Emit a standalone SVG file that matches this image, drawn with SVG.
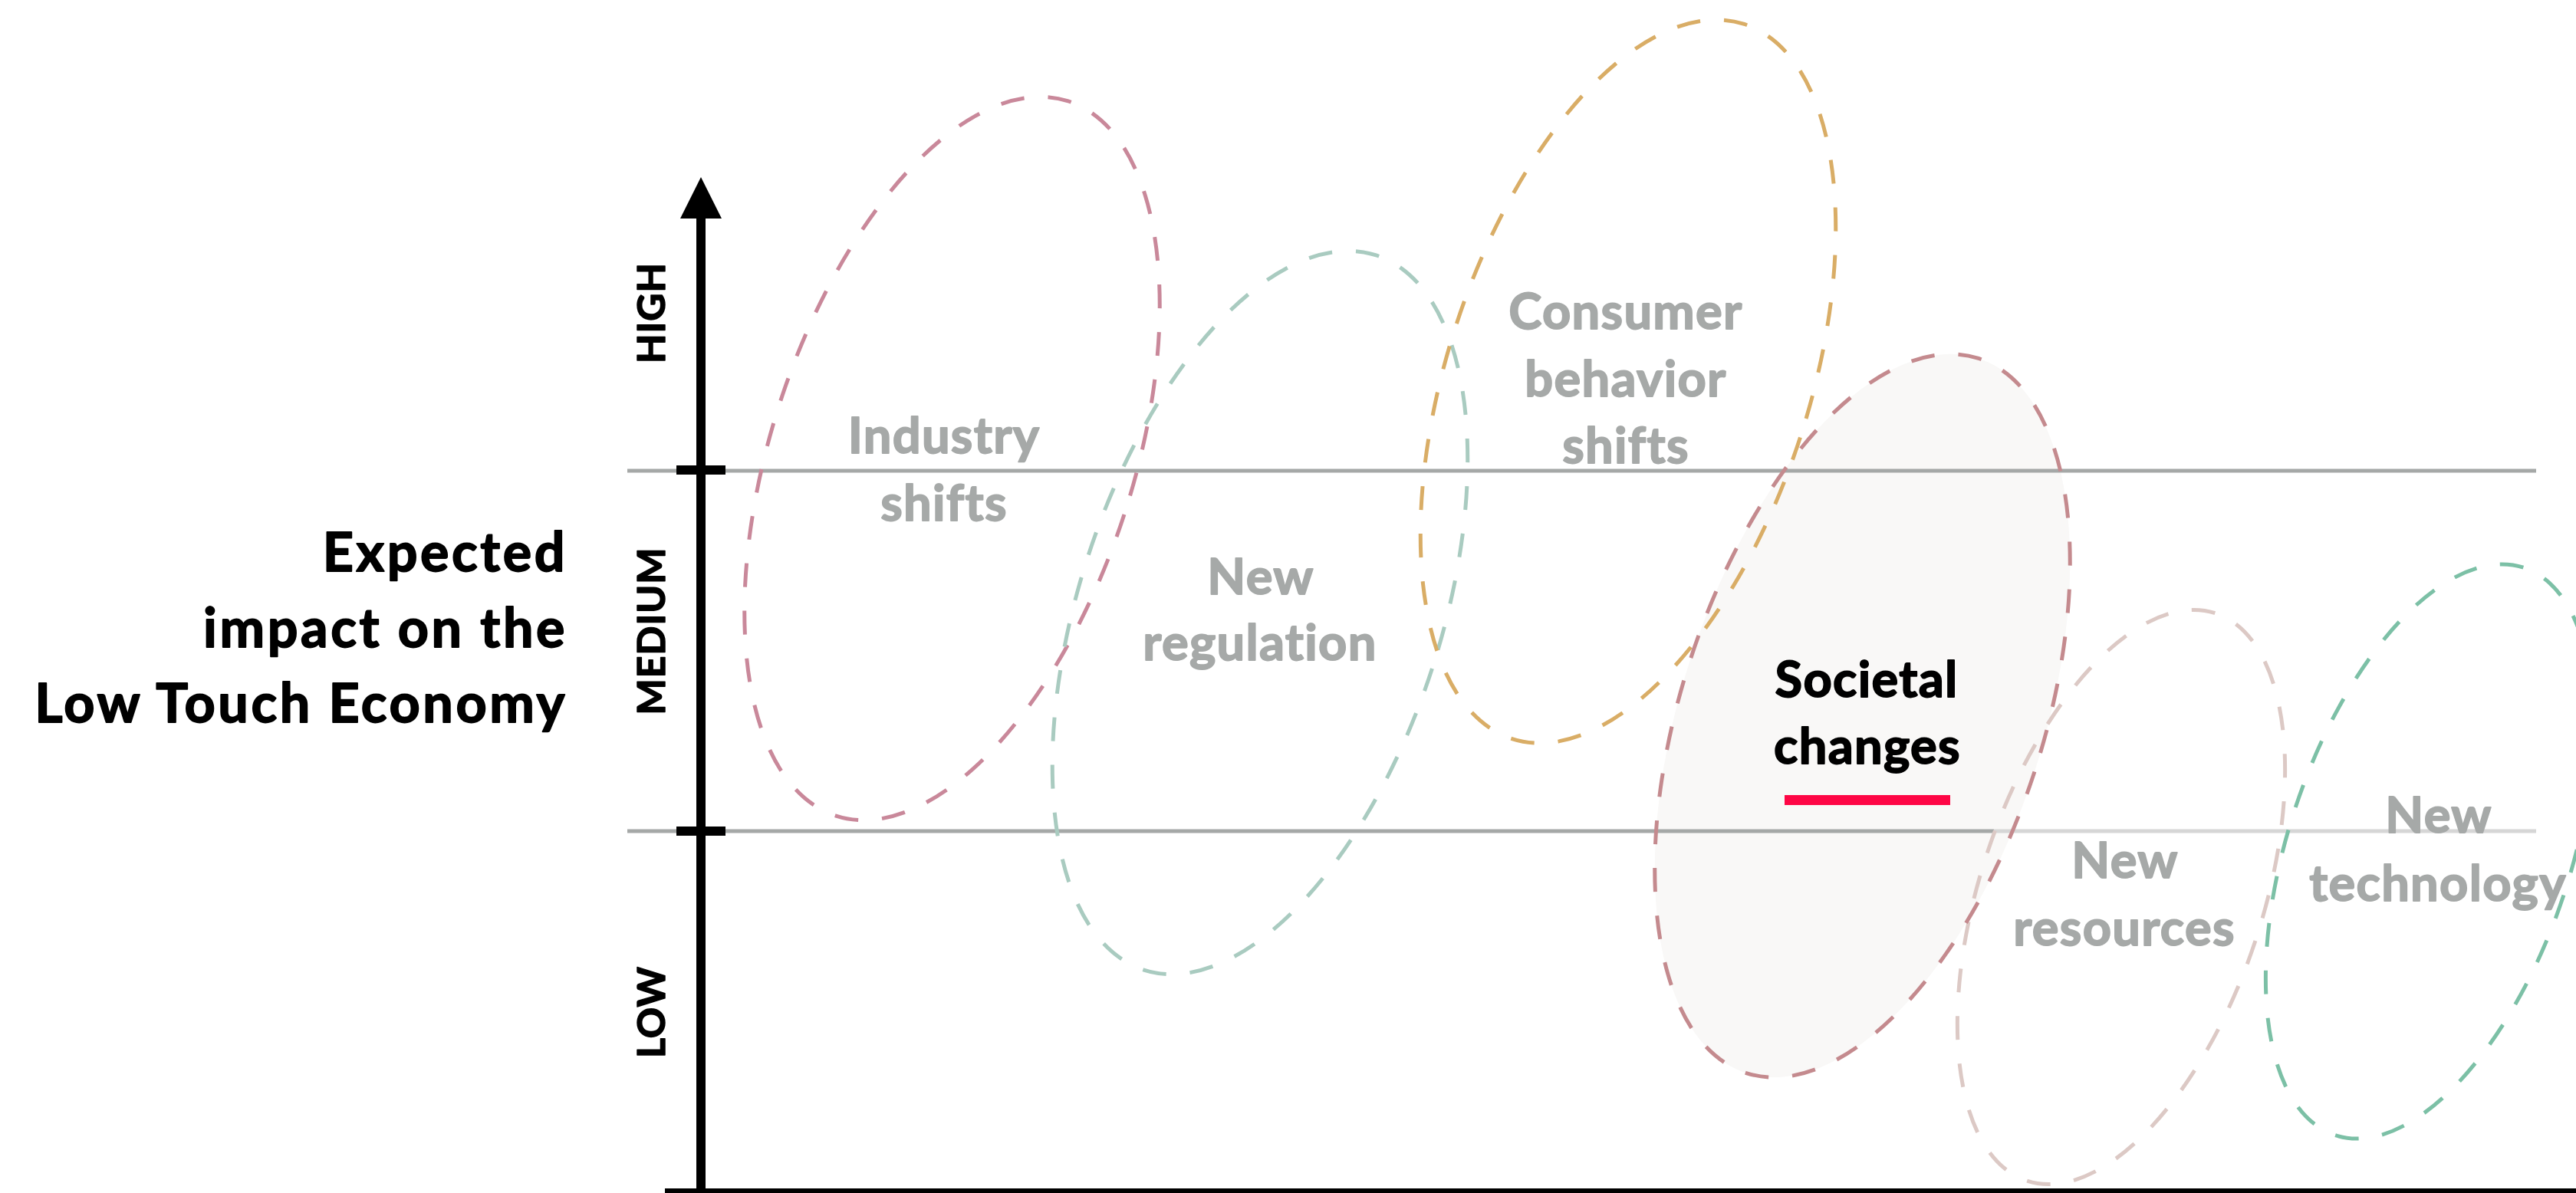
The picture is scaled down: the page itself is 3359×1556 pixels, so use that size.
<svg xmlns="http://www.w3.org/2000/svg" width="3359" height="1556" viewBox="0 0 3359 1556">
  <style>
    .lbl { font-family: Lato, "Open Sans", "Liberation Sans", sans-serif; font-weight: 700; font-size: 65px; text-anchor: middle; fill: #a6a9a8; stroke: #a6a9a8; stroke-width: 1.8px; stroke-linejoin: round; letter-spacing: 1.3px; }
    .lbl-dark { fill: #000000; stroke: #000000; }
    .title { font-family: Lato, "Open Sans", "Liberation Sans", sans-serif; font-weight: 700; font-size: 70px; text-anchor: end; fill: #000000; stroke: #000000; stroke-width: 1.8px; stroke-linejoin: round; letter-spacing: 3.6px; }
    .axis-lbl { font-family: Lato, "Open Sans", "Liberation Sans", sans-serif; font-weight: 700; font-size: 50px; text-anchor: middle; fill: #000000; stroke: #000000; stroke-width: 1.5px; stroke-linejoin: round; letter-spacing: 1px; }
    .blob { fill: none; stroke-width: 5; stroke-dasharray: 31 31; }
    .grid { stroke: #a5a8a7; stroke-width: 5; }
  </style>

  <!-- Societal changes fill (behind everything) -->
  <ellipse id="societal-fill" cx="0" cy="0" rx="236" ry="490" transform="translate(2428.5,933.5) rotate(18)" fill="#f9f8f7"/>

  <g id="axes">
    <line class="grid" x1="818" y1="614" x2="3307" y2="614"/>
    <line class="grid" x1="818" y1="1084" x2="2600" y2="1084"/>
    <line x1="2600" y1="1084" x2="3307" y2="1084" stroke="#d6d6d6" stroke-width="5"/>
    <rect x="908" y="280" width="12" height="1276" fill="#000"/>
    <polygon points="914,231 887,285 941,285" fill="#000"/>
    <rect x="882" y="607" width="64" height="12" fill="#000"/>
    <rect x="882" y="1078" width="64" height="12" fill="#000"/>
    <rect x="867" y="1550" width="2492" height="6" fill="#000"/>
    <text class="axis-lbl" transform="translate(867,408) rotate(-90)">HIGH</text>
    <text class="axis-lbl" transform="translate(867,823) rotate(-90)">MEDIUM</text>
    <text class="axis-lbl" transform="translate(867,1320) rotate(-90)">LOW</text>
  </g>

  <g id="title">
    <text class="title" x="740" y="745">Expected</text>
    <text class="title" x="740" y="844">impact on the</text>
    <text class="title" x="740" y="942">Low Touch Economy</text>
  </g>

  <g id="industry-shifts">
    <ellipse class="blob" cx="0" cy="0" rx="236" ry="490" transform="translate(1241.5,598) rotate(18)" stroke="#c9889a"/>
    <text class="lbl" x="1231" y="591">Industry</text>
    <text class="lbl" x="1231" y="679">shifts</text>
  </g>

  <g id="new-regulation">
    <ellipse class="blob" cx="0" cy="0" rx="236" ry="490" transform="translate(1643,799) rotate(18)" stroke="#a9cbc0"/>
    <text class="lbl" x="1644" y="775">New</text>
    <text class="lbl" x="1643" y="861">regulation</text>
  </g>

  <g id="consumer-behavior-shifts">
    <ellipse class="blob" cx="0" cy="0" rx="236" ry="490" transform="translate(2123,497.5) rotate(18)" stroke="#d9ad66"/>
    <text class="lbl" x="2120" y="429">Consumer</text>
    <text class="lbl" x="2120" y="517">behavior</text>
    <text class="lbl" x="2120" y="604">shifts</text>
  </g>

  <g id="new-resources">
    <ellipse class="blob" cx="0" cy="0" rx="184" ry="390" transform="translate(2766,1170) rotate(18.4)" stroke="#dcc9c5"/>
    <text class="lbl" x="2771" y="1145">New</text>
    <text class="lbl" x="2770" y="1233">resources</text>
  </g>

  <g id="new-technology">
    <ellipse class="blob" cx="0" cy="0" rx="184" ry="390" transform="translate(3168,1110.5) rotate(18.4)" stroke="#7cc0a6"/>
    <text class="lbl" x="3180" y="1086">New</text>
    <text class="lbl" x="3179" y="1175">technology</text>
  </g>

  <g id="societal-changes">
    <ellipse class="blob" cx="0" cy="0" rx="236" ry="490" transform="translate(2428.5,933.5) rotate(18)" stroke="#c48a8e" stroke-width="6"/>
    <text class="lbl lbl-dark" x="2434" y="909">Societal</text>
    <text class="lbl lbl-dark" x="2435" y="996">changes</text>
    <rect x="2327" y="1037" width="216" height="13" fill="#fe0645"/>
  </g>
</svg>
